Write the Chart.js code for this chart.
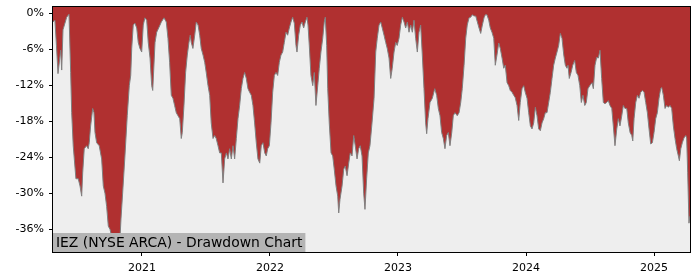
<!DOCTYPE html>
<html>
<head>
<meta charset="utf-8">
<script src="https://cdn.jsdelivr.net/npm/chart.js@4.4.1/dist/chart.umd.min.js"></script>
<style>
  html, body { margin: 0; padding: 0; background: #fff; }
  canvas { display: block; }
</style>
</head>
<body>
<canvas id="myChart" width="700" height="280"></canvas>
<script>
// =========================================================
// Drawdown chart data (dates as decimal years)
const chartTitle = 'IEZ (NYSE ARCA) - Drawdown Chart';

const dateYears = [
  2020.305, 2020.320, 2020.332, 2020.344, 2020.365, 2020.373, 2020.383, 2020.412, 2020.430, 2020.443,
  2020.451, 2020.463, 2020.484, 2020.502, 2020.516, 2020.529, 2020.537, 2020.549, 2020.568, 2020.580,
  2020.588, 2020.599, 2020.615, 2020.625, 2020.633, 2020.646, 2020.666, 2020.685, 2020.698, 2020.711,
  2020.724, 2020.737, 2020.750, 2020.763, 2020.776, 2020.789, 2020.802, 2020.815, 2020.828, 2020.836,
  2020.849, 2020.867, 2020.885, 2020.901, 2020.912, 2020.920, 2020.932, 2020.945, 2020.959, 2020.971,
  2020.984, 2020.998, 2021.010, 2021.023, 2021.037, 2021.049, 2021.063, 2021.076, 2021.084, 2021.102,
  2021.115, 2021.141, 2021.151, 2021.172, 2021.190, 2021.203, 2021.216, 2021.229, 2021.242, 2021.255,
  2021.268, 2021.281, 2021.295, 2021.307, 2021.315, 2021.328, 2021.341, 2021.354, 2021.367, 2021.377,
  2021.385, 2021.398, 2021.412, 2021.424, 2021.438, 2021.451, 2021.463, 2021.477, 2021.490, 2021.502,
  2021.516, 2021.529, 2021.541, 2021.555, 2021.568, 2021.580, 2021.594, 2021.607, 2021.620, 2021.633,
  2021.646, 2021.659, 2021.672, 2021.685, 2021.698, 2021.711, 2021.724, 2021.737, 2021.750, 2021.763,
  2021.776, 2021.789, 2021.802, 2021.815, 2021.828, 2021.841, 2021.854, 2021.867, 2021.880, 2021.893,
  2021.906, 2021.920, 2021.932, 2021.945, 2021.959, 2021.971, 2021.982, 2021.995, 2022.008, 2022.021,
  2022.034, 2022.047, 2022.060, 2022.073, 2022.086, 2022.099, 2022.112, 2022.125, 2022.138, 2022.151,
  2022.164, 2022.177, 2022.190, 2022.203, 2022.211, 2022.224, 2022.237, 2022.250, 2022.263, 2022.276,
  2022.289, 2022.297, 2022.307, 2022.320, 2022.334, 2022.346, 2022.359, 2022.373, 2022.385, 2022.398,
  2022.412, 2022.424, 2022.432, 2022.443, 2022.451, 2022.463, 2022.477, 2022.490, 2022.502, 2022.516,
  2022.529, 2022.537, 2022.547, 2022.563, 2022.576, 2022.588, 2022.602, 2022.615, 2022.627, 2022.641,
  2022.654, 2022.666, 2022.680, 2022.693, 2022.705, 2022.719, 2022.732, 2022.742, 2022.755, 2022.768,
  2022.781, 2022.797, 2022.813, 2022.826, 2022.838, 2022.852, 2022.865, 2022.877, 2022.891, 2022.904,
  2022.916, 2022.930, 2022.943, 2022.955, 2022.969, 2022.982, 2022.994, 2023.008, 2023.021, 2023.034,
  2023.047, 2023.060, 2023.073, 2023.086, 2023.099, 2023.112, 2023.125, 2023.138, 2023.151, 2023.164,
  2023.177, 2023.190, 2023.203, 2023.216, 2023.224, 2023.234, 2023.250, 2023.268, 2023.287, 2023.302,
  2023.315, 2023.328, 2023.341, 2023.354, 2023.367, 2023.380, 2023.393, 2023.406, 2023.420, 2023.432,
  2023.445, 2023.463, 2023.477, 2023.490, 2023.502, 2023.516, 2023.529, 2023.541, 2023.555, 2023.568,
  2023.580, 2023.594, 2023.607, 2023.620, 2023.633, 2023.646, 2023.659, 2023.672, 2023.682, 2023.695,
  2023.709, 2023.721, 2023.734, 2023.748, 2023.760, 2023.773, 2023.787, 2023.799, 2023.813, 2023.826,
  2023.838, 2023.852, 2023.865, 2023.877, 2023.891, 2023.904, 2023.916, 2023.930, 2023.943, 2023.955,
  2023.969, 2023.982, 2023.994, 2024.008, 2024.021, 2024.034, 2024.047, 2024.060, 2024.073, 2024.086,
  2024.099, 2024.112, 2024.125, 2024.138, 2024.151, 2024.164, 2024.177, 2024.190, 2024.203, 2024.216,
  2024.229, 2024.242, 2024.255, 2024.268, 2024.281, 2024.295, 2024.307, 2024.320, 2024.328, 2024.338,
  2024.352, 2024.365, 2024.380, 2024.393, 2024.406, 2024.420, 2024.432, 2024.445, 2024.459, 2024.471,
  2024.484, 2024.498, 2024.516, 2024.526, 2024.539, 2024.552, 2024.565, 2024.578, 2024.591, 2024.604,
  2024.617, 2024.630, 2024.643, 2024.656, 2024.670, 2024.682, 2024.695, 2024.709, 2024.721, 2024.734,
  2024.748, 2024.760, 2024.773, 2024.787, 2024.799, 2024.813, 2024.826, 2024.834, 2024.844, 2024.857,
  2024.870, 2024.883, 2024.896, 2024.909, 2024.922, 2024.935, 2024.948, 2024.961, 2024.974, 2024.987,
  2025.000, 2025.013, 2025.026, 2025.039, 2025.052, 2025.060, 2025.073, 2025.086, 2025.099, 2025.112,
  2025.125, 2025.138, 2025.151, 2025.164, 2025.177, 2025.190, 2025.198, 2025.209, 2025.221, 2025.234,
  2025.248, 2025.255, 2025.263, 2025.273, 2025.281
];

// drawdown in percent
const drawdown = [
  -1.5, -1.2, -5.4, -10.1, -6.2, -9.5, -2.8, -0.7, -0.2, -9.9,
  -16.6, -22.1, -27.6, -27.6, -28.8, -30.5, -26.6, -22.6, -22.1, -22.6,
  -21.6, -18.8, -15.9, -16.6, -19.9, -21.6, -22.1, -24.3, -28.8, -30.0,
  -32.2, -35.5, -36.0, -37.2, -36.7, -37.2, -36.7, -37.2, -37.7, -34.3,
  -30.0, -23.8, -17.1, -12.1, -10.4, -5.9, -2.0, -1.7, -2.5, -4.9,
  -5.9, -6.5, -2.0, -0.8, -1.2, -4.9, -7.5, -12.1, -12.9, -4.9,
  -3.2, -2.0, -1.5, -0.8, -1.5, -4.2, -8.2, -13.7, -14.2, -15.4,
  -16.6, -17.1, -17.6, -20.9, -19.9, -15.4, -9.9, -7.0, -4.9, -3.7,
  -4.9, -5.9, -3.7, -1.5, -2.0, -3.7, -5.9, -7.0, -8.2, -9.9,
  -12.1, -13.7, -18.3, -20.9, -20.4, -20.9, -22.1, -23.3, -23.3, -28.3,
  -24.3, -23.3, -24.3, -22.6, -24.3, -22.1, -24.3, -20.9, -17.6, -15.4,
  -12.6, -10.9, -9.9, -10.9, -12.6, -13.2, -13.7, -15.4, -18.3, -21.6,
  -24.3, -25.0, -22.1, -21.6, -23.3, -23.8, -22.6, -22.1, -18.3, -13.2,
  -10.4, -9.9, -10.4, -8.2, -7.0, -6.5, -4.9, -3.2, -3.7, -2.5,
  -1.5, -0.7, -1.7, -5.4, -6.5, -3.7, -2.0, -1.5, -2.5, -1.5,
  -0.7, -2.0, -5.4, -10.4, -12.1, -9.9, -15.4, -12.1, -9.2, -6.5,
  -4.2, -1.5, -0.7, -5.4, -12.6, -18.3, -23.3, -23.8, -26.0, -28.8,
  -30.5, -33.3, -31.0, -28.8, -26.0, -25.5, -27.1, -25.0, -23.3, -23.8,
  -20.4, -22.1, -24.3, -22.6, -22.1, -23.8, -30.0, -32.7, -27.6, -23.3,
  -22.1, -18.3, -14.2, -6.5, -4.2, -2.0, -1.5, -2.5, -3.7, -4.9,
  -5.9, -7.5, -10.9, -9.2, -6.5, -4.9, -5.4, -4.2, -2.0, -0.7,
  -1.5, -2.5, -1.5, -3.2, -2.0, -3.2, -1.2, -4.2, -6.5, -3.2,
  -2.0, -7.0, -12.6, -18.3, -20.1, -17.6, -14.9, -14.2, -12.6, -13.7,
  -15.9, -17.1, -19.9, -20.9, -22.6, -20.4, -19.9, -22.1, -19.9, -17.1,
  -16.6, -17.1, -16.6, -14.9, -12.6, -8.7, -4.2, -2.0, -0.8, -0.7,
  -0.3, -0.5, -0.5, -1.5, -2.5, -3.4, -2.0, -0.8, -0.3, -0.3,
  -1.2, -2.5, -3.2, -4.2, -8.7, -7.0, -5.0, -5.9, -7.5, -9.2,
  -8.7, -11.6, -12.1, -12.9, -13.2, -13.7, -14.1, -15.4, -17.9, -14.9,
  -12.6, -12.1, -13.2, -14.2, -16.6, -18.8, -19.3, -18.3, -15.7, -17.1,
  -19.3, -19.6, -18.3, -17.6, -16.6, -16.6, -14.9, -13.2, -10.9, -8.7,
  -7.5, -6.5, -5.4, -3.4, -4.2, -7.0, -8.7, -9.2, -8.7, -10.9,
  -9.9, -8.7, -7.9, -9.9, -10.4, -12.1, -14.9, -13.7, -15.4, -14.9,
  -12.6, -12.1, -11.6, -12.6, -8.7, -7.4, -7.5, -6.2, -10.9, -14.9,
  -15.1, -14.9, -14.6, -15.4, -15.9, -18.8, -22.1, -19.3, -17.6, -18.8,
  -17.1, -15.4, -15.9, -15.9, -18.3, -19.9, -20.4, -21.3, -17.6, -14.9,
  -13.7, -14.2, -13.2, -12.9, -13.2, -14.9, -16.6, -19.3, -21.8, -21.6,
  -19.9, -17.6, -16.6, -14.2, -12.6, -12.4, -13.7, -15.9, -15.4, -15.7,
  -15.4, -15.9, -18.8, -20.9, -22.6, -23.8, -24.6, -22.6, -21.6, -20.8,
  -20.4, -20.8, -26.6, -35.0, -33.8
];

// axis ticks
const yearTicks = [2021, 2022, 2023, 2024, 2025];
const yTicks = [0, -6, -12, -18, -24, -30, -36];

// styles
const fillColor = '#b03030';
const lineColor = '#808080';
const plotBg = '#eeeeee';
const legendBg = '#b4b4b4';
const fontFamily = '"DejaVu Sans", Verdana, sans-serif';
const tickFontSize = 11;
const legendFontSize = 13.9;

// =======================
// Plugins
// =======================
const plotBackground = {
  id: 'plotBackground',
  beforeDatasetsDraw(chart) {
    const { ctx, chartArea: a } = chart;
    ctx.save();
    ctx.fillStyle = plotBg;
    ctx.fillRect(a.left, a.top, a.right - a.left, a.bottom - a.top);
    ctx.restore();
  }
};

const frameAndLegend = {
  id: 'frameAndLegend',
  afterDatasetsDraw(chart) {
    const { ctx, chartArea: a } = chart;
    ctx.save();
    // legend box at bottom-left
    ctx.font = `${legendFontSize}px ${fontFamily}`;
    const w = ctx.measureText(chartTitle).width;
    ctx.fillStyle = legendBg;
    ctx.fillRect(a.left, a.bottom - 19, w + 6, 19);
    ctx.fillStyle = '#000';
    ctx.textBaseline = 'middle';
    ctx.fillText(chartTitle, a.left + 3, a.bottom - 9);
    // frame
    ctx.strokeStyle = '#000';
    ctx.lineWidth = 1;
    ctx.strokeRect(Math.round(a.left) - 0.5, Math.round(a.top) - 0.5,
      Math.round(a.right - a.left) + 1, Math.round(a.bottom - a.top) + 1);
    ctx.restore();
  }
};

// =======================
// Chart Configuration
// =======================
const ctx = document.getElementById('myChart').getContext('2d');

new Chart(ctx, {
  type: 'line',
  data: {
    datasets: [{
      label: chartTitle,
      data: dateYears.map((d, i) => ({ x: d, y: drawdown[i] })),
      borderColor: lineColor,
      borderWidth: 1,
      backgroundColor: fillColor,
      fill: 'end',
      pointRadius: 0,
      tension: 0
    }]
  },
  options: {
    responsive: false,
    animation: false,
    layout: { padding: { top: 7, right: 10, left: 0, bottom: 0 } },
    plugins: {
      legend: { display: false },
      tooltip: { enabled: false }
    },
    scales: {
      x: {
        type: 'linear',
        min: 2020.305,
        max: 2025.281,
        afterBuildTicks: scale => { scale.ticks = yearTicks.map(v => ({ value: v })); },
        afterFit: scale => {
          scale.height = 28;
          scale.paddingLeft = 0;
          scale.paddingRight = 0;
        },
        grid: { drawOnChartArea: false, drawTicks: true, tickLength: 4, color: '#000' },
        border: { display: false },
        ticks: {
          color: '#000',
          padding: 6,
          maxRotation: 0,
          font: { family: fontFamily, size: tickFontSize },
          callback: v => String(v)
        }
      },
      y: {
        position: 'left',
        min: -39.8,
        max: 1,
        afterBuildTicks: scale => { scale.ticks = yTicks.map(v => ({ value: v })); },
        afterFit: scale => {
          scale.width = 53;
          scale.paddingTop = 0;
          scale.paddingBottom = 0;
        },
        grid: { drawOnChartArea: false, drawTicks: true, tickLength: 4, color: '#000' },
        border: { display: false },
        ticks: {
          color: '#000',
          padding: 5,
          font: { family: fontFamily, size: tickFontSize },
          callback: v => `${v}%`
        }
      }
    }
  },
  plugins: [plotBackground, frameAndLegend]
});
</script>
</body>
</html>
